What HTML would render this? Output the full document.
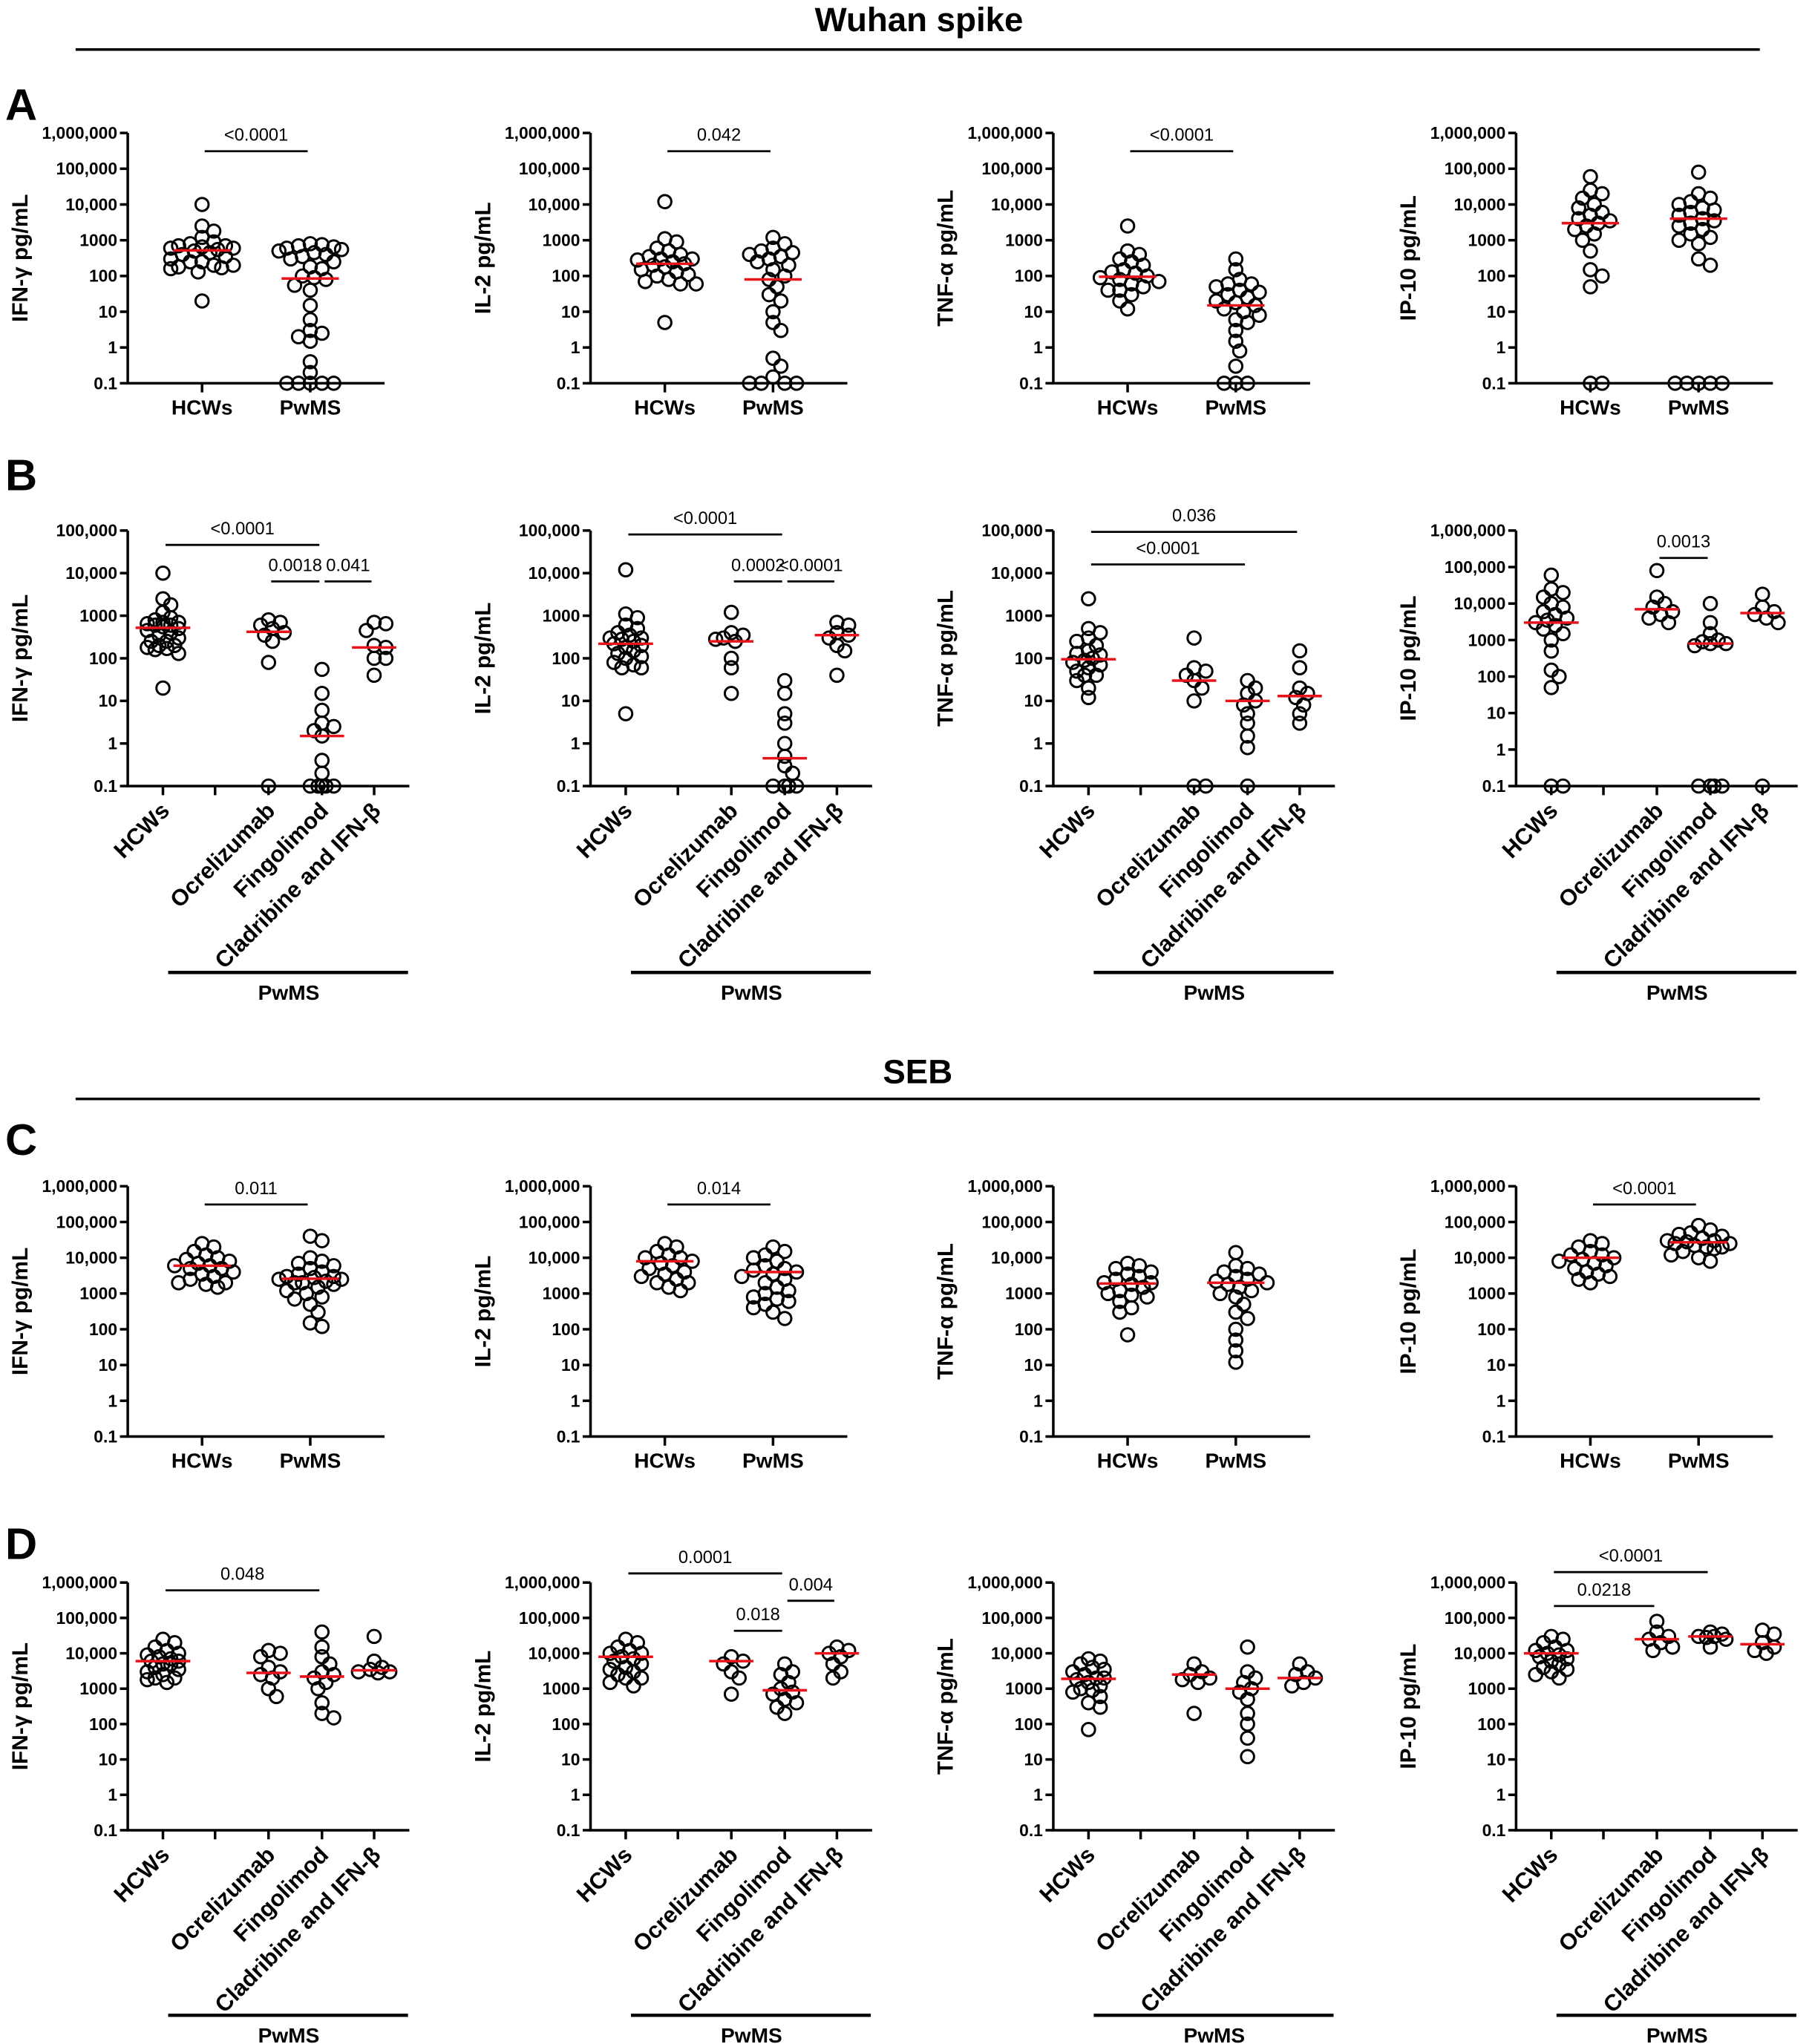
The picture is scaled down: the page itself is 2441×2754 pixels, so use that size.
<!DOCTYPE html>
<html><head><meta charset="utf-8">
<style>
html,body{margin:0;padding:0;background:#fff;}
svg{display:block;font-family:"Liberation Sans",Arial,sans-serif;}
</style></head>
<body>
<svg id="fig" width="2441" height="2754" viewBox="0 0 1390 1568" preserveAspectRatio="none" xmlns="http://www.w3.org/2000/svg">
<text x="705" y="24" text-anchor="middle" font-size="26" font-weight="bold">Wuhan spike</text>
<line x1="58" y1="38" x2="1350" y2="38" stroke="#000" stroke-width="2"/>
<text x="704" y="831" text-anchor="middle" font-size="26" font-weight="bold">SEB</text>
<line x1="58" y1="843" x2="1350" y2="843" stroke="#000" stroke-width="2"/>
<text x="4" y="92" font-size="34" font-weight="bold">A</text>
<text x="4" y="376" font-size="34" font-weight="bold">B</text>
<text x="4" y="886" font-size="34" font-weight="bold">C</text>
<text x="4" y="1196" font-size="34" font-weight="bold">D</text>
</svg>
<script>
const cytokines = ["IFN-γ","IL-2","TNF-α","IP-10"];
const twoGroups = ["HCWs","PwMS"];
const fourGroups = ["HCWs","","Ocrelizumab","Fingolimod","Cladribine and IFN-β"];
const tickLabels = ["0.1","1","10","100","1000","10,000","100,000","1,000,000"];

// Row A (Wuhan spike, HCWs vs PwMS)
const A_HCW = [
 [10000,2500,1800,1200,900,800,700,700,650,600,600,550,500,450,400,350,300,250,250,200,200,180,170,160,130,20],
 [12000,1100,900,600,500,400,350,300,300,280,250,220,200,180,150,130,110,100,80,70,60,60,5],
 [2500,500,400,300,250,200,150,130,120,100,90,80,70,60,50,40,40,30,20,12],
 [60000,25000,20000,15000,10000,8000,6000,5000,4000,3500,3000,2500,2000,1500,1000,500,150,100,50,0.1,0.1]];
const A_PWMS = [
 [800,750,700,650,600,550,500,450,400,350,300,250,180,160,100,90,80,55,40,15,6,3,2.5,2,1.5,0.4,0.2,0.1,0.1,0.1,0.1,0.1],
 [1200,800,600,500,450,400,350,300,250,200,150,100,80,50,30,20,10,5,3,0.5,0.3,0.15,0.1,0.1,0.1,0.1],
 [300,150,80,60,60,50,40,35,30,25,20,18,15,12,10,8,6,5,3,1.5,0.8,0.3,0.1,0.1,0.1],
 [80000,20000,15000,12000,10000,8000,7000,6000,5000,4000,3500,3000,2500,2000,1500,1200,1000,800,300,200,0.1,0.1,0.1,0.1,0.1]];
const A_MED = [[520,85],[220,80],[95,15],[3000,4000]];

// Row B (Wuhan spike, by treatment)
const B_OCRE = [[800,700,600,500,400,350,250,80,0.1],[1200,400,350,300,280,250,100,60,15],[300,60,50,40,30,20,10,0.1,0.1],[80000,15000,10000,8000,6000,5000,4000,3000]];
const B_FINGO = [[55,15,6,3,2.5,2,1.5,0.4,0.2,0.1,0.1,0.1,0.1,0.1],[30,15,5,3,1,0.5,0.3,0.2,0.1,0.1,0.1,0.1],[30,20,15,10,8,5,3,1.5,0.8,0.1],[10000,3000,1500,1000,900,800,800,700,0.1,0.1,0.1,0.1]];
const B_CLAD = [[700,650,450,200,180,100,100,40],[700,600,400,350,300,200,150,40],[150,60,20,15,12,8,5,3],[18000,8000,6000,5000,4000,3000,0.1]];
const B_MED = [[520,420,1.5,180],[220,250,0.45,350],[95,30,10,13],[3000,7000,800,5500]];

// Row C (SEB, HCWs vs PwMS)
const C_HCW = [
 [25000,20000,15000,12000,10000,9000,8000,7000,6000,6000,5000,5000,4000,3500,3000,2500,2000,2000,1800,1500],
 [25000,20000,15000,12000,10000,10000,8000,7000,6000,5000,4000,3500,3000,2500,2000,2000,1500,1200],
 [7000,6000,5000,4000,3500,3000,2500,2000,2000,1800,1500,1200,1000,900,800,600,400,300,70],
 [30000,25000,20000,15000,12000,12000,10000,9000,8000,7000,6000,5000,4000,3500,3000,2500,2000]];
const C_PWMS = [
 [40000,30000,10000,8000,7000,6000,5000,4000,3500,3000,3000,2800,2500,2500,2200,2000,2000,1800,1500,1200,1000,800,700,500,300,150,120],
 [20000,15000,12000,10000,8000,6000,5000,4500,4000,3500,3000,2500,2000,1500,1200,1000,800,700,600,500,400,300,200],
 [14000,6000,5000,4000,3500,3000,2500,2200,2000,1800,1500,1200,1000,800,500,300,200,100,50,25,12],
 [80000,60000,50000,45000,40000,35000,30000,30000,28000,25000,25000,22000,20000,20000,18000,15000,12000,10000,8000]];
const C_MED = [[6000,2600],[8000,4000],[1900,2000],[10000,27000]];

// Row D (SEB, by treatment)
const D_OCRE = [[12000,10000,8000,4000,3000,2500,2000,1000,600],[8000,6000,5000,3000,2000,700],[5000,3000,2500,2000,1800,1500,200],[80000,40000,30000,25000,20000,15000,12000]];
const D_FINGO = [[40000,15000,8000,5000,3000,2500,2000,1500,1000,400,200,150],[5000,3000,2500,1500,1000,800,700,500,400,300,200],[15000,3000,2000,1500,1000,800,500,200,100,40,12],[40000,35000,30000,30000,28000,25000,15000]];
const D_CLAD = [[30000,6000,4000,3500,3000,3000,2800],[15000,12000,10000,8000,5000,3000,2000],[5000,3000,2500,2000,1500,1200],[45000,35000,20000,15000,12000,10000]];
const D_MED = [[6000,2800,2200,3300],[8000,6000,900,10000],[1900,2500,1000,2000],[10000,25000,30000,18000]];

// significance: [fromGroupSlot, toGroupSlot, barY, label]
const A_SIG = [[[0,1,116,"<0.0001"]],[[0,1,116,"0.042"]],[[0,1,116,"<0.0001"]],[]];
const B_SIG = [[[0,3,418,"<0.0001"],[2,3,446,"0.0018"],[3,4,446,"0.041"]],
               [[0,3,410,"<0.0001"],[2,3,446,"0.0002"],[3,4,446,"<0.0001"]],
               [[0,4,408,"0.036"],[0,3,433,"<0.0001"]],
               [[2,3,428,"0.0013"]]];
const C_SIG = [[[0,1,924,"0.011"]],[[0,1,924,"0.014"]],[],[[0,1,924,"<0.0001"]]];
const D_SIG = [[[0,3,1220,"0.048"]],[[0,3,1207,"0.0001"],[2,3,1251,"0.018"],[3,4,1228,"0.004"]],[],[[0,3,1206,"<0.0001"],[0,2,1232,"0.0218"]]];

const NS="http://www.w3.org/2000/svg";
const svg=document.getElementById('fig');
const panelX=[98,453,808,1163];
function mk(tag,attrs,parent){const e=document.createElementNS(NS,tag);for(const k in attrs)e.setAttribute(k,attrs[k]);(parent||svg).appendChild(e);return e;}

function drawPanel(row,pi,cfg){
  const ax=panelX[pi];
  const g=mk('g',{});
  
  
  const top=cfg.top,bot=cfg.bot,maxDec=cfg.maxDec;
  const y=v=>bot-(Math.log10(v)+1)/(maxDec+1)*(bot-top);
  const slots=cfg.slots,len=cfg.len;
  const yax=mk('line',{x1:ax,y1:top,x2:ax,y2:bot,stroke:'#000','stroke-width':2},g);
  
  
  const xax=mk('line',{x1:ax-1,y1:bot,x2:ax+len,y2:bot,stroke:'#000','stroke-width':2},g);
  
  
  for(let d=-1;d<=maxDec;d++){
    const yy=y(Math.pow(10,d));
    mk('line',{x1:ax-6,y1:yy,x2:ax,y2:yy,stroke:'#000','stroke-width':2},g);
    const t=mk('text',{x:ax-8,y:yy+4.5,'text-anchor':'end','font-size':13,'font-weight':'bold'},g);
    t.textContent=tickLabels[d+1];
    
    
  }
  const yt=mk('text',{x:0,y:0,'text-anchor':'middle','font-size':17,'font-weight':'bold',transform:`translate(${ax-77},${(top+bot)/2}) rotate(-90)`},g);
  yt.textContent=cytokines[pi]+' pg/mL';
  
  
  const names=cfg.names;
  slots.forEach((s,i)=>{
    const xx=ax+s;
    mk('line',{x1:xx,y1:bot,x2:xx,y2:bot+7,stroke:'#000','stroke-width':2},g);
    if(!names[i])return;
    let t;
    if(cfg.rot){
      t=mk('text',{x:0,y:0,'text-anchor':'end','font-size':17.5,'font-weight':'bold',transform:`translate(${xx+6},${bot+20}) rotate(-45)`},g);
    }else{
      t=mk('text',{x:xx,y:bot+24,'text-anchor':'middle','font-size':16,'font-weight':'bold'},g);
    }
    t.textContent=names[i];
    
    
  });
  if(cfg.rot){
    const ly=cfg.bracketY;
    mk('line',{x1:ax+slots[0]+4,y1:ly,x2:ax+len-1,y2:ly,stroke:'#000','stroke-width':2.5},g);
    const t=mk('text',{x:ax+(slots[0]+len)/2+2,y:ly+21,'text-anchor':'middle','font-size':16,'font-weight':'bold'},g);
    t.textContent='PwMS';
    
    
  }
  const r=5;
  const maxOff=cfg.rot?14:26;
  cfg.groups.forEach((vals,gi)=>{
    if(!vals)return;
    const cx=ax+slots[cfg.groupSlots[gi]];
    const placed=[];
    const sorted=vals.slice().sort((a,b)=>b-a);
    sorted.forEach(v=>{
      const yy=y(v);
      let off=0,best=-1,bestOff=0;
      for(let k=0;k<40;k++){
        const cand=(k===0?0:(k%2?1:-1)*Math.ceil(k/2)*3);
        if(Math.abs(cand)>maxOff)break;
        const dmin=placed.reduce((m,p)=>Math.min(m,Math.hypot(p[0]-cand,p[1]-yy)),1e9);
        if(dmin>=2*r*(cfg.rot?0.7:0.8)){bestOff=cand;best=1e9;break;}
        if(dmin>best){best=dmin;bestOff=cand;}
      }
      off=bestOff;
      placed.push([off,yy]);
      const c=mk('circle',{cx:cx+off,cy:yy,r:r,fill:'none',stroke:'#000','stroke-width':1.7},g);
      
      
    });
    const m=cfg.medians[gi];
    const hw=cfg.rot?(gi===0?21:17):22;
    const ml=mk('line',{x1:cx-hw,y1:y(m),x2:cx+hw,y2:y(m),stroke:'#e8141c','stroke-width':2},g);
    
    
  });
  cfg.sig.forEach(s=>{
    const x1=ax+slots[s[0]]+2,x2=ax+slots[s[1]]-2;
    const b=mk('line',{x1:x1,y1:s[2],x2:x2,y2:s[2],stroke:'#000','stroke-width':1.6},g);
    
    
    const t=mk('text',{x:(x1+x2)/2,y:s[2]-8,'text-anchor':'middle','font-size':13.5},g);
    t.textContent=s[3];
    
    
  });
}

for(let i=0;i<4;i++){
  drawPanel('a',i,{top:102,bot:294,maxDec:6,slots:[57,140],len:197,names:twoGroups,rot:false,
    groups:[A_HCW[i],A_PWMS[i]],groupSlots:[0,1],medians:A_MED[i],sig:A_SIG[i]});
  drawPanel('b',i,{top:407,bot:603,maxDec:i===3?6:5,slots:[27,67,108,149,189],len:216,names:fourGroups,rot:true,bracketY:746,
    groups:[A_HCW[i],B_OCRE[i],B_FINGO[i],B_CLAD[i]],groupSlots:[0,2,3,4],medians:B_MED[i],sig:B_SIG[i]});
  drawPanel('c',i,{top:910,bot:1102,maxDec:6,slots:[57,140],len:197,names:twoGroups,rot:false,
    groups:[C_HCW[i],C_PWMS[i]],groupSlots:[0,1],medians:C_MED[i],sig:C_SIG[i]});
  drawPanel('d',i,{top:1214,bot:1404,maxDec:6,slots:[27,67,108,149,189],len:216,names:fourGroups,rot:true,bracketY:1546,
    groups:[C_HCW[i],D_OCRE[i],D_FINGO[i],D_CLAD[i]],groupSlots:[0,2,3,4],medians:D_MED[i],sig:D_SIG[i]});
}
</script>
</body></html>
